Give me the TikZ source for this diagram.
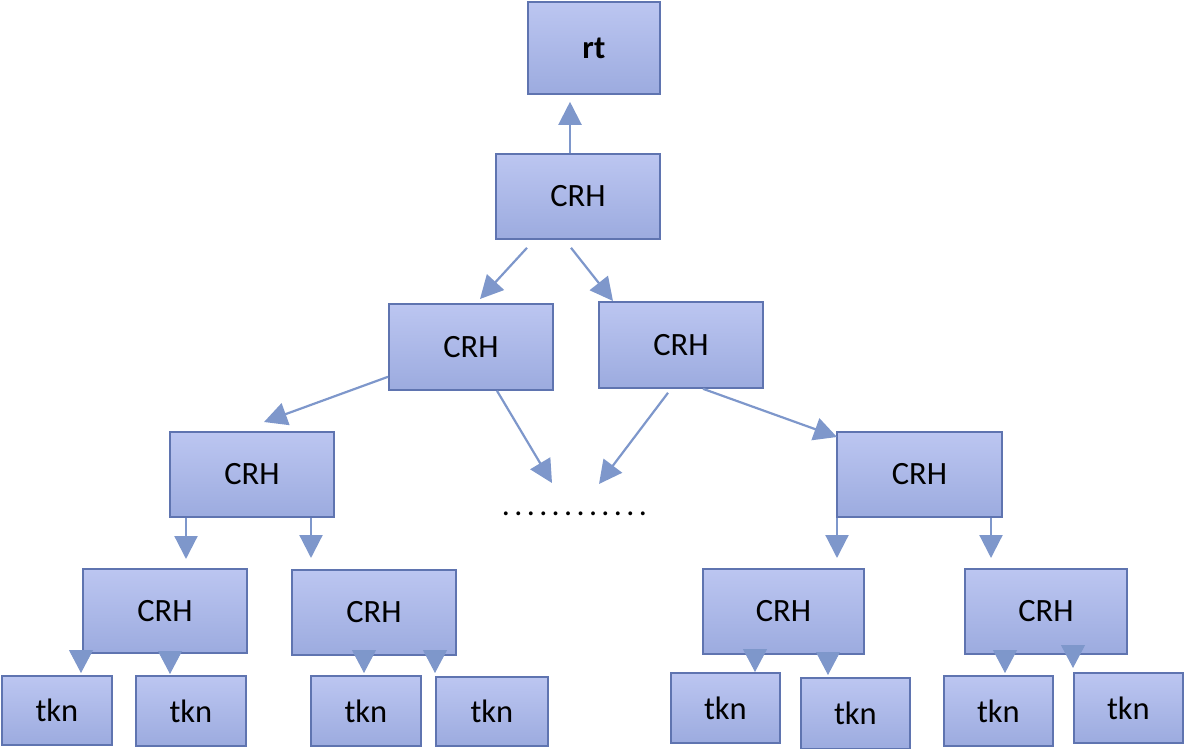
\documentclass[tikz,border=0pt]{standalone}
\usepackage{fontspec}
\setmainfont{Carlito}
\usetikzlibrary{arrows.meta}
\definecolor{boxtop}{HTML}{BCC6F1}
\definecolor{boxbot}{HTML}{9CABDF}
\definecolor{boxline}{HTML}{5F74B0}
\definecolor{arrcol}{HTML}{7E97CB}
\newcommand\dd{\hbox to 12.45pt{\hss.\hss}}
\tikzset{
  box/.style={draw=boxline, line width=1.8pt, top color=boxtop, bottom color=boxbot,
    inner sep=0pt, anchor=north west, font=\fontsize{32.5}{38}\selectfont, text=black},
  arr/.style={draw=arrcol, line width=2.2pt, -{Triangle[width=23pt,length=23pt]}},
  tip/.style={draw=arrcol, line width=1pt, -{Triangle[width=24pt,length=23pt]}}
}
\begin{document}
\begin{tikzpicture}[x=1pt,y=-1pt]
\useasboundingbox (0,0) rectangle (1189,749);
% boxes
\node[box, minimum width=132pt, minimum height=92pt] (rt) at (527,1) {\textbf{rt}};
\node[box, minimum width=164pt, minimum height=85pt] (c0) at (495,153) {CRH};
\node[box, minimum width=164pt, minimum height=86pt] (c1) at (388,303) {CRH};
\node[box, minimum width=164pt, minimum height=86pt] (c2) at (598,301) {CRH};
\node[box, minimum width=164pt, minimum height=85pt] (c3) at (169,431) {CRH};
\node[box, minimum width=165pt, minimum height=85pt] (c4) at (836,431) {CRH};
\node[box, minimum width=164pt, minimum height=84pt] (c5) at (82,568) {CRH};
\node[box, minimum width=164pt, minimum height=85pt] (c6) at (291,569) {CRH};
\node[box, minimum width=161pt, minimum height=85pt] (c7) at (702,568) {CRH};
\node[box, minimum width=162pt, minimum height=85pt] (c8) at (964,568) {CRH};
\node[box, minimum width=110pt, minimum height=69pt] (t1) at (1,675) {tkn};
\node[box, minimum width=110pt, minimum height=70pt] (t2) at (135,675) {tkn};
\node[box, minimum width=110pt, minimum height=70pt] (t3) at (310,675) {tkn};
\node[box, minimum width=112pt, minimum height=69pt] (t4) at (435,676) {tkn};
\node[box, minimum width=109pt, minimum height=70pt] (t5) at (670,672) {tkn};
\node[box, minimum width=109pt, minimum height=71pt] (t6) at (800,677) {tkn};
\node[box, minimum width=109pt, minimum height=70pt] (t7) at (943,675) {tkn};
\node[box, minimum width=109pt, minimum height=70pt] (t8) at (1073,672) {tkn};
% dots
\node[inner sep=0pt, anchor=base, font=\fontsize{32}{36}\selectfont] (dots) at (574.5,515)
  {\dd\dd\dd\dd\dd\dd\dd\dd\dd\dd\dd\dd};
% arrows
\draw[arr] ([xshift=75pt]c0.north west) -- ([xshift=43pt,yshift=-7pt]rt.south west);
\draw[arr] ([xshift=32pt,yshift=-8pt]c0.south west) -- ([xshift=92pt,yshift=4pt]c1.north west);
\draw[arr] ([xshift=76pt,yshift=-8pt]c0.south west) -- ([xshift=15pt]c2.north west);
\draw[arr] ([yshift=14pt]c1.south west) -- ([xshift=95pt,yshift=9pt]c3.north west);
\draw[arr] ([xshift=105pt]c2.south west) -- ([xshift=1pt,yshift=-6pt]c4.north west);
\draw[arr] ([xshift=109pt]c1.south west) -- ([xshift=-22.5pt,yshift=32pt]dots.base);
\draw[arr] ([xshift=70pt,yshift=-4pt]c2.south west) -- ([xshift=24.5pt,yshift=31pt]dots.base);
\draw[arr] ([xshift=17pt]c3.south west) -- ([xshift=104pt,yshift=9pt]c5.north west);
\draw[arr] ([xshift=142pt]c3.south west) -- ([xshift=20pt,yshift=11pt]c6.north west);
\draw[arr] ([xshift=1pt]c4.south west) -- ([xshift=135pt,yshift=10pt]c7.north west);
\draw[arr] ([xshift=155pt]c4.south west) -- ([xshift=27pt,yshift=10pt]c8.north west);
% short tips into tkn boxes
\draw[tip] ([xshift=-1pt,yshift=3pt]c5.south west) -- ([xshift=80pt,yshift=2pt]t1.north west);
\draw[tip] ([xshift=88pt,yshift=3pt]c5.south west) -- ([xshift=35pt,yshift=1pt]t2.north west);
\draw[tip] ([xshift=73pt,yshift=3pt]c6.south west) -- ([xshift=54pt,yshift=2pt]t3.north west);
\draw[tip] ([xshift=144pt,yshift=3pt]c6.south west) -- ([xshift=0pt,yshift=3pt]t4.north west);
\draw[tip] ([xshift=53pt,yshift=3pt]c7.south west) -- ([xshift=85pt]t5.north west);
\draw[tip] ([xshift=126pt,yshift=3pt]c7.south west) -- ([xshift=28pt,yshift=2pt]t6.north west);
\draw[tip] ([xshift=41pt,yshift=3pt]c8.south west) -- ([xshift=62pt,yshift=2pt]t7.north west);
\draw[tip] ([xshift=109pt,yshift=3pt]c8.south west) -- ([xshift=0pt,yshift=4pt]t8.north west);
\end{tikzpicture}
\end{document}
